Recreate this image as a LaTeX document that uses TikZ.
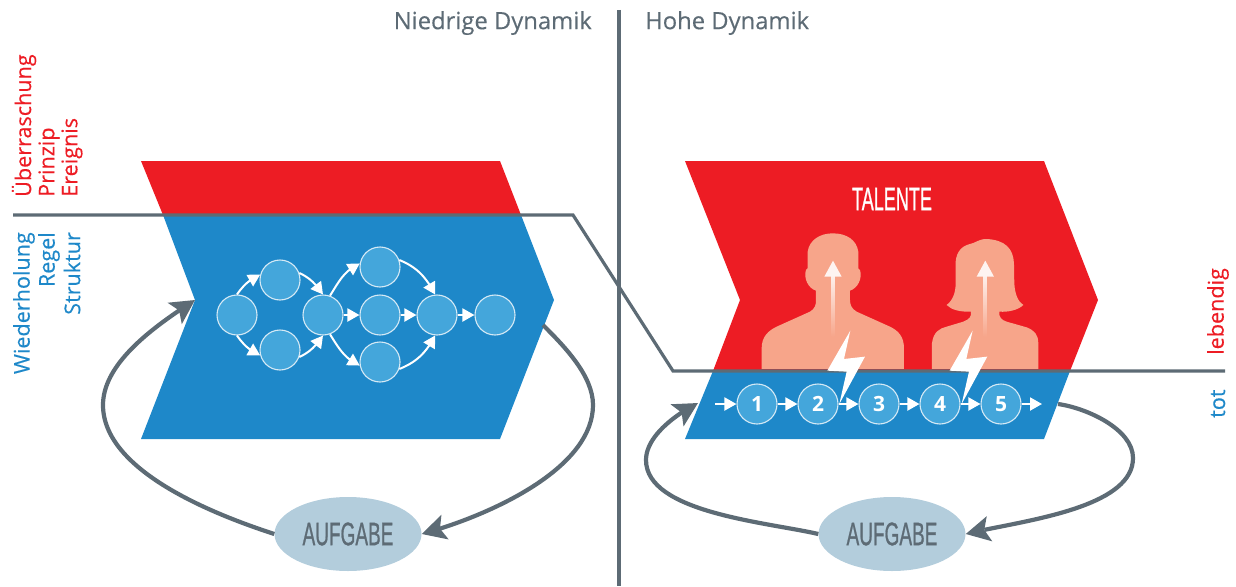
\documentclass[tikz,border=0pt]{standalone}
\usepackage{fontspec}
\setmainfont{Open Sans}
\newfontfamily\labelfont[FakeBold=0.25]{Open Sans}
\newfontfamily\condfont[FakeBold=1.1]{Liberation Sans}
\usetikzlibrary{arrows.meta,shapes.geometric,bending}
\definecolor{myred}{HTML}{ED1C24}
\definecolor{myblue}{HTML}{1E88C9}
\definecolor{circblue}{HTML}{44A6DB}
\definecolor{salmon}{HTML}{F7A58A}
\definecolor{slate}{HTML}{5D6B75}
\definecolor{pale}{HTML}{B3CDDC}
\definecolor{ring}{HTML}{D5E9F5}
\tikzset{
  x=1pt,y=1pt,
  flow/.style={circle,fill=circblue,draw=ring,line width=1.1pt,minimum size=40pt,inner sep=0pt,text=white,font=\bfseries\fontsize{21}{21}\selectfont},
  flowarrow/.style={white,line width=2pt,-{Triangle[length=12pt,width=13pt]}},
  bigarrow/.style={slate,line width=4.2pt},
  bighead/.style={-{Stealth[length=24pt,width=25pt,inset=5pt,flex]}},
  taskbox/.style={ellipse,fill=pale,minimum width=147pt,minimum height=74pt,inner sep=0pt},
  rule/.style={slate,line width=3.2pt},
  headtext/.style={text=slate,font=\labelfont\fontsize{23.8}{23.8}\selectfont},
  sidetext/.style={rotate=90,font=\labelfont\fontsize{21.6}{21.6}\selectfont,inner sep=0pt},
  person/.style={fill=salmon},
  bolt/.style={fill=white}
}
\newcommand{\cond}[2]{\scalebox{#1}[1]{\condfont\fontsize{32.5}{32.5}\selectfont #2}}
\begin{document}
\begin{tikzpicture}
\useasboundingbox (0,0) rectangle (1236,-586);
% chevrons
\fill[myred] (141,-161) -- (500,-161) -- (521,-215) -- (163,-215) -- cycle;
\fill[myblue] (163,-215) -- (521,-215) -- (554,-300) -- (500,-439) -- (141,-439) -- (195,-300) -- cycle;
\fill[myred] (685,-161) -- (1044,-161) -- (1098,-300) -- (1070,-371) -- (713,-371) -- (740,-300) -- cycle;
\fill[myblue] (713,-371) -- (1070,-371) -- (1044,-439) -- (685,-439) -- cycle;
% people
\begin{scope}[shift={(670,-220)},x=0.3333pt,y=-0.3333pt]
\fill[person] (275,447) -- (275,385) .. controls (275,350) and (295,332) .. (320,320) -- (420,275)
  .. controls (435,266) and (438,255) .. (438,240) -- (438,212)
  .. controls (415,205) and (400,175) .. (408,150) -- (413,145) -- (413,95)
  .. controls (418,60) and (450,40) .. (488,40) .. controls (530,40) and (560,60) .. (565,95)
  -- (565,145) -- (570,150) .. controls (578,175) and (563,205) .. (540,212) -- (540,240)
  .. controls (540,255) and (545,266) .. (560,275) -- (660,320)
  .. controls (685,332) and (702,350) .. (702,385) -- (702,447) -- cycle;
\fill[person] (786,447) -- (786,370) .. controls (790,335) and (810,325) .. (830,320) -- (880,305)
  .. controls (898,298) and (905,290) .. (903,275)
  .. controls (870,276) and (845,270) .. (830,255)
  .. controls (850,240) and (857,215) .. (857,190) -- (857,125)
  .. controls (860,95) and (875,78) .. (900,72) .. controls (915,70) and (925,57) .. (950,57)
  .. controls (1005,60) and (1030,85) .. (1032,130) -- (1033,190)
  .. controls (1035,225) and (1045,245) .. (1060,255)
  .. controls (1045,270) and (1015,277) .. (988,275)
  .. controls (986,292) and (995,300) .. (1010,305) -- (1070,322)
  .. controls (1095,332) and (1105,345) .. (1105,370) -- (1105,447) -- cycle;
\shade[bottom color=salmon,middle color=salmon!65!white,top color=white!85!salmon] (484,350) rectangle (494,165);
\fill[white!88!salmon] (463,170) -- (515,170) -- (489,122) -- cycle;
\shade[bottom color=salmon,middle color=salmon!65!white,top color=white!85!salmon] (941,350) rectangle (951,165);
\fill[white!88!salmon] (920,170) -- (972,170) -- (946,122) -- cycle;
\end{scope}
% rules
\draw[rule] (13,-215) -- (573,-215) -- (673,-371) -- (1225,-371);
\draw[slate,line width=4pt] (619,-10) -- (619,-586);
% bolts
\begin{scope}[shift={(670,-220)},x=0.3333pt,y=-0.3333pt]
\fill[bolt] (541,332) -- (472,452) -- (530,455) -- (508,552) -- (585,410) -- (522,417) -- cycle;
\fill[bolt] (908,332) -- (839,452) -- (897,455) -- (875,552) -- (952,410) -- (889,417) -- cycle;
\end{scope}
% left graph
\node[flow] (a1) at (237,-315) {};
\node[flow] (a2) at (280,-280) {};
\node[flow] (a3) at (280,-350) {};
\node[flow] (a4) at (323,-315) {};
\node[flow] (a5) at (380,-267) {};
\node[flow] (a6) at (380,-315) {};
\node[flow] (a7) at (380,-362) {};
\node[flow] (a8) at (437,-315) {};
\node[flow] (a9) at (495,-315) {};
\draw[flowarrow] (a1.90) to[out=55,in=205] (a2.165);
\draw[flowarrow] (a1.-90) to[out=-55,in=155] (a3.195);
\draw[flowarrow] (a2.20) to[out=-25,in=125] (a4.90);
\draw[flowarrow] (a3.-20) to[out=25,in=-125] (a4.-90);
\draw[flowarrow] (a4.70) to[out=58,in=205] (a5.170);
\draw[flowarrow] (a4.-70) to[out=-58,in=155] (a7.190);
\draw[flowarrow] (a5.20) to[out=-22,in=118] (a8.95);
\draw[flowarrow] (a7.-20) to[out=22,in=-118] (a8.-95);
\draw[flowarrow] (a4) -- (a6);
\draw[flowarrow] (a6) -- (a8);
\draw[flowarrow] (a8) -- (a9);
% right row
\node[flow] (b1) at (757,-404) {1};
\node[flow] (b2) at (818,-404) {2};
\node[flow] (b3) at (879,-404) {3};
\node[flow] (b4) at (940,-404) {4};
\node[flow] (b5) at (1001,-404) {5};
\coordinate (bstart) at (715,-404);
\coordinate (bend) at (1042,-404);
\draw[flowarrow] (bstart) -- (b1);
\draw[flowarrow] (b1) -- (b2);
\draw[flowarrow] (b2) -- (b3);
\draw[flowarrow] (b3) -- (b4);
\draw[flowarrow] (b4) -- (b5);
\draw[flowarrow] (b5) -- (bend);
% tasks
\node[taskbox] (tl) at (348,-534) {\cond{0.585}{\textcolor{slate}{AUFGABE}}};
\node[taskbox] (tr) at (892,-534) {\cond{0.585}{\textcolor{slate}{AUFGABE}}};
\coordinate (l1) at (103,-405);
\coordinate (l2) at (195,-300);
\coordinate (l3) at (543,-325);
\coordinate (l4) at (593,-405);
\coordinate (r1) at (646,-460);
\coordinate (r2) at (698,-403);
\coordinate (r3) at (1058,-404);
\coordinate (r4) at (1133,-458);
\draw[bigarrow,bighead] (tl.west) to[out=162,in=-90,looseness=0.78] (l1) to[out=90,in=213,looseness=0.8] (l2);
\draw[bigarrow,bighead] (l3) to[out=-45,in=90,looseness=0.8] (l4) to[out=-90,in=15,looseness=0.78] (tl.east);
\draw[bigarrow,bighead] (tr.west) to[out=167,in=-90,looseness=0.72] (r1) to[out=90,in=207,looseness=0.8] (r2);
\draw[bigarrow,bighead] (r3) to[out=-8,in=90,looseness=0.8] (r4) to[out=-90,in=14,looseness=0.72] (tr.east);
% labels
\node[headtext,anchor=east,inner sep=0pt] (h1) at (592,-23) {Niedrige Dynamik};
\node[headtext,anchor=west,inner sep=0pt] (h2) at (645,-23) {Hohe Dynamik};
\node (tal) at (892,-199) {\cond{0.555}{\textcolor{white}{TALENTE}}};
\node[sidetext,text=myred,anchor=west] (s1) at (24,-197) {Überraschung};
\node[sidetext,text=myred,anchor=west] (s2) at (49,-197) {Prinzip};
\node[sidetext,text=myred,anchor=west] (s3) at (72,-197) {Ereignis};
\node[sidetext,text=myblue,anchor=east] (s4) at (24,-232) {Wiederholung};
\node[sidetext,text=myblue,anchor=east] (s5) at (49,-232) {Regel};
\node[sidetext,text=myblue,anchor=east] (s6) at (72,-232) {Struktur};
\node[sidetext,text=myred,anchor=west] (s7) at (1218,-355) {lebendig};
\node[sidetext,text=myblue,anchor=west] (s8) at (1218,-418) {tot};
\end{tikzpicture}
\end{document}
